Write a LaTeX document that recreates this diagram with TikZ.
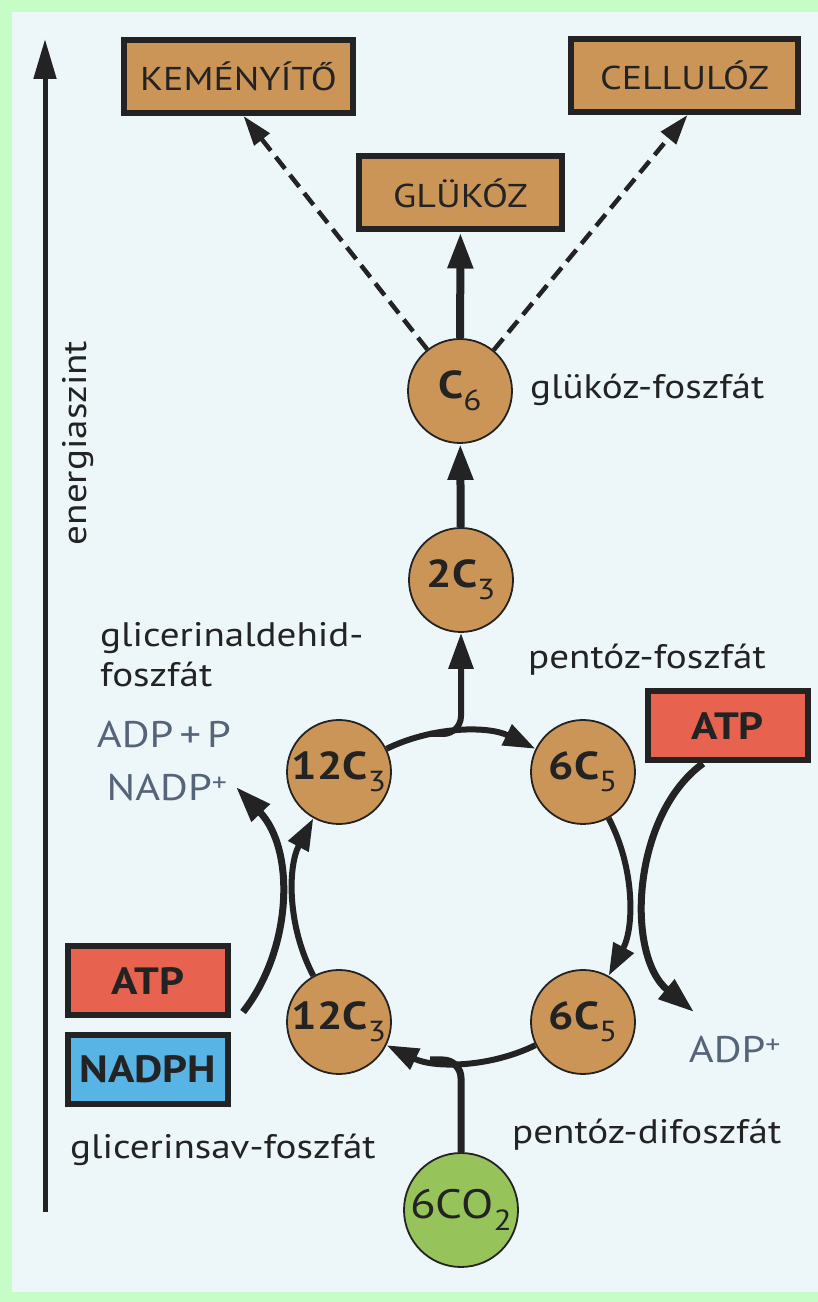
\documentclass[tikz,border=0pt]{standalone}
\usepackage{fontspec}
\setmainfont{PT Sans}[FakeStretch=1.15]
\usetikzlibrary{arrows.meta}
\definecolor{outergreen}{RGB}{198,252,198}
\definecolor{panelbg}{RGB}{237,246,248}
\definecolor{tanfill}{RGB}{203,149,88}
\definecolor{redfill}{RGB}{232,98,80}
\definecolor{bluefill}{RGB}{88,180,228}
\definecolor{greenfill}{RGB}{150,195,90}
\definecolor{ink}{RGB}{35,35,35}
\definecolor{grayblue}{RGB}{85,100,120}
\newcommand\csub[1]{\raisebox{-0.3em}{\mdseries\fontsize{29}{29}\selectfont #1}}
\begin{document}
\begin{tikzpicture}[x=1pt,y=1pt,
  circ/.style={circle, draw=ink, line width=1.8pt, fill=tanfill, minimum size=104pt, inner sep=0pt,
    font=\fontsize{39}{41}\selectfont\bfseries, text=ink},
  namebox/.style={draw=ink, line width=6pt, fill=tanfill, inner sep=0pt, minimum height=73pt,
    font=\fontsize{33}{35}\selectfont, text=ink},
  energybox/.style={draw=ink, line width=6pt, inner sep=0pt, minimum width=160pt, minimum height=69pt,
    font=\fontsize{38}{40}\selectfont\bfseries, text=ink},
  lbl/.style={font=\fontsize{34}{40}\selectfont, text=ink, inner sep=0pt},
  mol/.style={font=\fontsize{37}{42}\selectfont, text=grayblue, inner sep=0pt},
  cyc/.style={draw=ink, line width=6pt, -{Triangle[length=32pt,width=22pt]}},
  cycplain/.style={draw=ink, line width=6pt},
  bigarrow/.style={draw=ink, line width=8pt, -{Triangle[length=36pt,width=24pt]}},
  sidearrow/.style={draw=ink, line width=7pt, -{Triangle[length=36pt,width=24pt]}},
  dasharrow/.style={draw=ink, line width=4.5pt, dash pattern=on 15pt off 8pt, -{Triangle[length=30pt,width=19pt]}},
  axisarrow/.style={draw=ink, line width=5pt, -{Triangle[length=40pt,width=22pt]}}
]
\fill[outergreen] (0,0) rectangle (818,1302);
\fill[panelbg] (12,10) rectangle (818,1290);
\useasboundingbox (0,0) rectangle (818,1302);

% energy axis
\coordinate (ea0) at (45,90);
\coordinate (ea1) at (45,1263);
\draw[axisarrow] (ea0) -- (ea1);
\node[lbl, rotate=90] (energy) at (78,859) {energiaszint};

% top boxes
\node[namebox, minimum width=229pt] (kem) at (238.5,1225.5) {KEMÉNYÍTŐ};
\node[namebox, minimum width=227pt] (cel) at (684.5,1226.5) {CELLULÓZ};
\node[namebox, minimum width=203pt] (gluk) at (460.5,1109) {GLÜKÓZ};

% circles
\node[circ] (c6) at (460,911) {C\csub{6}};
\node[circ] (c23) at (461,722) {2C\csub{3}};
\node[circ] (tl) at (339,530) {12C\csub{3}};
\node[circ] (tr) at (583,530) {6C\csub{5}};
\node[circ] (bl) at (339,280) {12C\csub{3}};
\node[circ] (br) at (583,280) {6C\csub{5}};
\node[circ, fill=greenfill, minimum size=114pt, font=\fontsize{41}{43}\selectfont] (co2) at (461,92) {6CO\csub{2}};

% energy boxes
\node[energybox, fill=redfill] (atpR) at (727.5,576) {ATP};
\node[energybox, fill=redfill] (atpL) at (148,321) {ATP};
\node[energybox, fill=bluefill] (nadph) at (148,232.5) {NADPH};

% labels
\node[lbl, anchor=west] (l1) at (530,912) {glükóz-foszfát};
\node[lbl, anchor=west, align=left] (l2) at (100,647) {glicerinaldehid-\\foszfát};
\node[lbl, anchor=west] (l3) at (528,642) {pentóz-foszfát};
\node[lbl, anchor=west] (l4) at (512,167) {pentóz-difoszfát};
\node[lbl, anchor=west] (l5) at (70,152) {glicerinsav-foszfát};
\node[mol] (adpp) at (164,567) {ADP\,+\,P};
\node[mol] (nadpp) at (167,514) {NADP\textsuperscript{+}};
\node[mol] (adpr) at (735,252) {ADP\textsuperscript{+}};

% top connectors
\draw[bigarrow] (c6) -- (gluk);
\draw[dasharrow] (c6) -- ([xshift=5pt]kem.south);
\draw[dasharrow] (c6) -- ([xshift=3pt]cel.south);
\draw[bigarrow] (c23) -- (c6);

% cycle
\draw[cyc] (tl.26) to[out=26,in=154,looseness=0.9] (tr.154);
\draw[cyc] (tr.-61) to[out=-62,in=62,looseness=0.9] (br.61);
\draw[cyc] (br.-154) to[out=-154,in=-26,looseness=0.9] (bl.-26);
\draw[cyc] (bl.119) to[out=118,in=-118,looseness=0.9] (tl.-119);
\coordinate (jt) at (430,568);
\draw[bigarrow, line width=6pt, rounded corners=18pt] (jt) -| (c23);
\coordinate (jb) at (430,242);
\draw[cycplain, line width=7pt, rounded corners=18pt] (co2) |- (jb);

% side arrows
\coordinate (sL) at (243,290);
\coordinate (eL) at (236,515);
\draw[sidearrow] (sL) .. controls (292,352) and (296,452) .. (eL);
\coordinate (eR) at (694,290);
\draw[sidearrow] ([xshift=-24.5pt]atpR.south) .. controls (632,487) and (625,347) .. (eR);
\end{tikzpicture}
\end{document}
